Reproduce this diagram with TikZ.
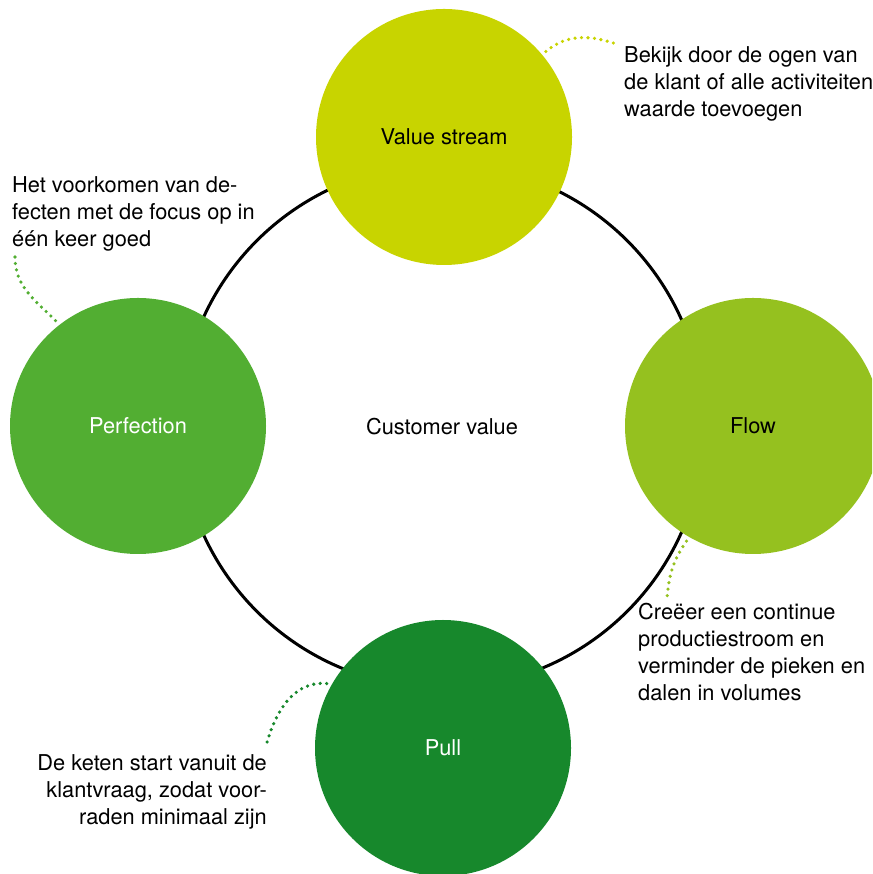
\documentclass[tikz,border=0pt]{standalone}
\usepackage{fontspec}
\setmainfont{TeX Gyre Heros}

\definecolor{streamcol}{HTML}{C8D400}
\definecolor{flowcol}{HTML}{95C11F}
\definecolor{perfcol}{HTML}{52AE32}
\definecolor{pullcol}{HTML}{17882C}

\begin{document}
\begin{tikzpicture}[x=1pt,y=1pt,
    txt/.style={font=\fontsize{21.8}{27}\selectfont},
    stage/.style={circle,minimum size=256pt,inner sep=0pt,outer sep=5pt,txt},
    note/.style={inner sep=0pt,align=left,txt},
    dots/.style={line width=3.6pt,line cap=round,dash pattern=on 0pt off 6.5pt}]
  \useasboundingbox (0,0) rectangle (872,874);
  \clip (0,0) rectangle (872,874);

  % the ring and the value in its middle
  \draw[line width=3pt] (442,448) circle (262);
  \node[txt] (cv) at (442,447) {Customer value};

  % the four principles
  \node[stage,fill=streamcol] (vs) at (444,737) {Value stream};
  \node[stage,fill=flowcol] (fl) at (753,448) {Flow};
  \node[stage,fill=perfcol,text=white] (pf) at (138,448) {Perfection};
  \node[stage,fill=pullcol,text=white] (pl) at (443,126) {Pull};

  % explanations
  \node[note,anchor=north west] (nvs) at (624,828) {Bekijk door de ogen van\\de klant of alle activiteiten\\waarde toevoegen};
  \node[note,anchor=north west] (npf) at (12,698) {Het voorkomen van de-\\fecten met de focus op in\\één keer goed};
  \node[note,anchor=north west] (nfl) at (638,271) {Creëer een continue\\productiestroom en\\verminder de pieken en\\dalen in volumes};
  \node[note,anchor=north east,align=right] (npl) at (267,120) {De keten start vanuit de\\klantvraag, zodat voor-\\raden minimaal zijn};

  \coordinate (tvs) at (619,829);
  \coordinate (tpf) at (15,617);
  \coordinate (tfl) at (667,276);
  \coordinate (tpl) at (266,128);

  \draw[dots,streamcol] (vs.40) to[out=40,in=160] (tvs);
  \draw[dots,perfcol] (tpf) to[out=-90,in=135] (pf.128);
  \draw[dots,flowcol] (fl.240) to[out=-125,in=85] (tfl);
  \draw[dots,pullcol] (pl.151) to[out=175,in=75] (tpl);
\end{tikzpicture}
\end{document}
